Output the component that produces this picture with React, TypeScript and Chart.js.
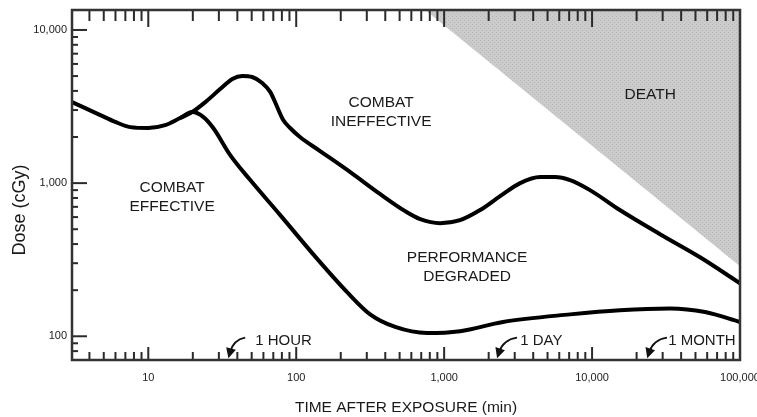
import { useEffect, useRef } from 'react';
import { Chart, registerables } from 'chart.js';

Chart.register(...registerables);

// Upper boundary (combat effective / combat ineffective)
const upperX = [3.05, 3.75, 4.74, 5.98, 7.55, 10, 13.0, 16.4, 19.8, 24.3, 30.6, 37.0, 43.2, 50.4, 58.9, 66.7, 74.4, 81.7, 91, 106, 145, 232, 370, 545, 689, 940, 1280, 1750, 2390, 3265, 4460, 5620, 7100, 9680, 15400, 28800, 53700, 100000];
const upperY = [3380, 3090, 2780, 2510, 2320, 2290, 2390, 2660, 2910, 3380, 4110, 4790, 5010, 4930, 4510, 3940, 3140, 2580, 2290, 2000, 1620, 1180, 847, 656, 582, 548, 573, 667, 822, 1000, 1095, 1095, 1046, 900, 667, 464, 328, 222];

// Lower boundary (performance degraded)
const lowerX = [16.4, 19.8, 23.6, 27.5, 35.8, 48.9, 78, 130, 221, 316, 467, 767, 1280, 2500, 7100, 15400, 33600, 58000, 100000];
const lowerY = [2660, 2910, 2700, 2290, 1524, 1047, 618, 344, 194, 139, 115, 105, 108, 124, 139, 148, 152, 144, 124];

// Death zone edge
const deathX = [745, 100000];
const deathY = [13500, 287];

const xTickValues = [10, 100, 1000, 10000, 100000];
const yTickValues = [100, 1000, 10000];

const regionNames = [['COMBAT', 'EFFECTIVE'], ['COMBAT', 'INEFFECTIVE'], ['PERFORMANCE', 'DEGRADED'], ['DEATH']];
const regionX = [14.5, 375, 1430, 24700];
const regionY = [810, 2890, 281, 3760];

const markerNames = ['1 HOUR', '1 DAY', '1 MONTH'];
const markerTailX = [45.2, 3110, 32100];
const markerTipX = [34.8, 2280, 23600];
const markerTextX = [52.8, 3265, 32700];
const markerTailY = 98;
const markerTipY = 72;
const markerTextY = 94;

const FONT = '"Liberation Sans", Arial, Helvetica, sans-serif';

const overlay = {
  id: 'overlay',
  afterDatasetsDraw(chart: any) {
    const { ctx, chartArea: a } = chart;
    const xs = chart.scales.x;
    const ys = chart.scales.y;
    const px = (v: number) => xs.getPixelForValue(v);
    const py = (v: number) => ys.getPixelForValue(v);
    ctx.save();
    const line = (x1: number, y1: number, x2: number, y2: number) => {
      ctx.beginPath();
      ctx.moveTo(x1, y1);
      ctx.lineTo(x2, y2);
      ctx.stroke();
    };
    ctx.strokeStyle = '#2a2a2a';
    ctx.lineWidth = 2;
    for (let k = 0; k <= 5; k++) {
      for (let m = 1; m <= 9; m++) {
        const v = m * Math.pow(10, k);
        const p = px(v);
        if (p < a.left + 2 || p > a.right - 2) continue;
        const major = m === 1;
        line(p, a.bottom, p, a.bottom - (major ? 13 : 8));
        line(p, a.top, p, a.top + (major ? 17 : 11));
      }
    }
    for (let k = 1; k <= 4; k++) {
      for (let m = 1; m <= 9; m++) {
        const v = m * Math.pow(10, k);
        const p = py(v);
        if (p < a.top + 2 || p > a.bottom - 2) continue;
        const major = m === 1;
        line(a.left, p, a.left + (major ? 15 : 6), p);
      }
    }
    ctx.lineWidth = 2.5;
    ctx.strokeStyle = '#333';
    ctx.strokeRect(a.left, a.top, a.right - a.left, a.bottom - a.top);

    // region labels
    ctx.fillStyle = '#1a1a1a';
    ctx.font = `15.5px ${FONT}`;
    ctx.textAlign = 'center';
    ctx.textBaseline = 'middle';
    regionNames.forEach((lines, i) => {
      const cx = px(regionX[i]);
      const cy = py(regionY[i]);
      const n = lines.length;
      lines.forEach((t, j) => {
        ctx.fillText(t, cx, cy + (j - (n - 1) / 2) * 19);
      });
    });

    // markers with arrows
    ctx.font = `15px ${FONT}`;
    ctx.textAlign = 'left';
    ctx.strokeStyle = '#111';
    markerNames.forEach((t, i) => {
      const T = { x: px(markerTailX[i]), y: py(markerTailY) };
      const P = { x: px(markerTipX[i]), y: py(markerTipY) };
      const C = { x: P.x + (T.x - P.x) * 0.3, y: T.y + (P.y - T.y) * 0.1 };
      let dx = P.x - C.x;
      let dy = P.y - C.y;
      const len = Math.hypot(dx, dy);
      dx /= len; dy /= len;
      const Q = { x: P.x - dx * 6, y: P.y - dy * 6 };
      ctx.lineWidth = 2;
      ctx.beginPath();
      ctx.moveTo(T.x, T.y);
      ctx.quadraticCurveTo(C.x, C.y, Q.x, Q.y);
      ctx.stroke();
      const bx = P.x - dx * 10;
      const by = P.y - dy * 10;
      ctx.fillStyle = '#111';
      ctx.beginPath();
      ctx.moveTo(P.x, P.y);
      ctx.lineTo(bx - dy * 5, by + dx * 5);
      ctx.lineTo(bx + dy * 5, by - dx * 5);
      ctx.closePath();
      ctx.fill();
      ctx.fillStyle = '#1a1a1a';
      ctx.fillText(t, px(markerTextX[i]), py(markerTextY));
    });

    // axis titles
    ctx.fillStyle = '#1a1a1a';
    ctx.textAlign = 'center';
    ctx.font = `15.5px ${FONT}`;
    ctx.fillText('TIME AFTER EXPOSURE (min)', (a.left + a.right) / 2, a.bottom + 48);
    ctx.save();
    ctx.translate(20, (a.top + a.bottom) / 2 + 25);
    ctx.rotate(-Math.PI / 2);
    ctx.font = `18px ${FONT}`;
    ctx.fillText('Dose (cGy)', 0, 0);
    ctx.restore();
    ctx.restore();
  },
};

function makeStipple(): CanvasPattern | string {
  const c = document.createElement('canvas');
  c.width = 4;
  c.height = 4;
  const g = c.getContext('2d');
  if (!g) return '#c8c8c8';
  g.fillStyle = '#cbcbcb';
  g.fillRect(0, 0, 4, 4);
  g.fillStyle = '#b8b8b8';
  g.fillRect(0, 0, 1, 1);
  g.fillRect(2, 2, 1, 1);
  const p = g.createPattern(c, 'repeat');
  return p || '#c8c8c8';
}

export default function App() {
  const ref = useRef<HTMLCanvasElement | null>(null);
  useEffect(() => {
    if (!ref.current) return;
    const toPts = (xs: number[], ys: number[]) => xs.map((x, i) => ({ x, y: ys[i] }));
    const chart = new Chart(ref.current, {
      type: 'line',
      data: {
        datasets: [
          {
            data: toPts(deathX, deathY),
            borderWidth: 0,
            borderColor: 'rgba(0,0,0,0)',
            backgroundColor: makeStipple(),
            fill: 'end',
            pointRadius: 0,
            tension: 0,
          },
          {
            data: toPts(upperX, upperY),
            borderColor: '#000',
            borderWidth: 4,
            pointRadius: 0,
            fill: false,
            cubicInterpolationMode: 'monotone',
          },
          {
            data: toPts(lowerX, lowerY),
            borderColor: '#000',
            borderWidth: 4,
            pointRadius: 0,
            fill: false,
            cubicInterpolationMode: 'monotone',
          },
        ],
      },
      options: {
        responsive: false,
        animation: false,
        devicePixelRatio: 1,
        layout: { padding: { top: 10, right: 17, left: 0, bottom: 0 } },
        plugins: { legend: { display: false }, tooltip: { enabled: false } },
        scales: {
          x: {
            type: 'logarithmic',
            min: 3.05,
            max: 100000,
            grid: { display: false, drawTicks: false },
            border: { display: false },
            afterBuildTicks: (s: any) => {
              s.ticks = xTickValues.map((v) => ({ value: v }));
            },
            afterFit: (s: any) => {
              s.height = 57;
              s.paddingLeft = 0;
              s.paddingRight = 0;
            },
            ticks: {
              autoSkip: false,
              maxRotation: 0,
              padding: 11,
              color: '#222',
              font: { family: FONT, size: 11 },
              callback: (v: any) => Number(v).toLocaleString('en-US'),
            },
          },
          y: {
            type: 'logarithmic',
            min: 70,
            max: 13500,
            grid: { display: false, drawTicks: false },
            border: { display: false },
            afterBuildTicks: (s: any) => {
              s.ticks = yTickValues.map((v) => ({ value: v }));
            },
            afterFit: (s: any) => {
              s.width = 72;
              s.paddingTop = 0;
              s.paddingBottom = 0;
            },
            ticks: {
              padding: 5,
              color: '#222',
              font: { family: FONT, size: 11 },
              callback: (v: any) => Number(v).toLocaleString('en-US'),
            },
          },
        },
      },
      plugins: [overlay],
    } as any);
    return () => chart.destroy();
  }, []);
  return (
    <div style={{ position: 'fixed', left: 0, top: 0, width: 757, height: 417, background: '#fff' }}>
      <canvas ref={ref} width={757} height={417} />
    </div>
  );
}
